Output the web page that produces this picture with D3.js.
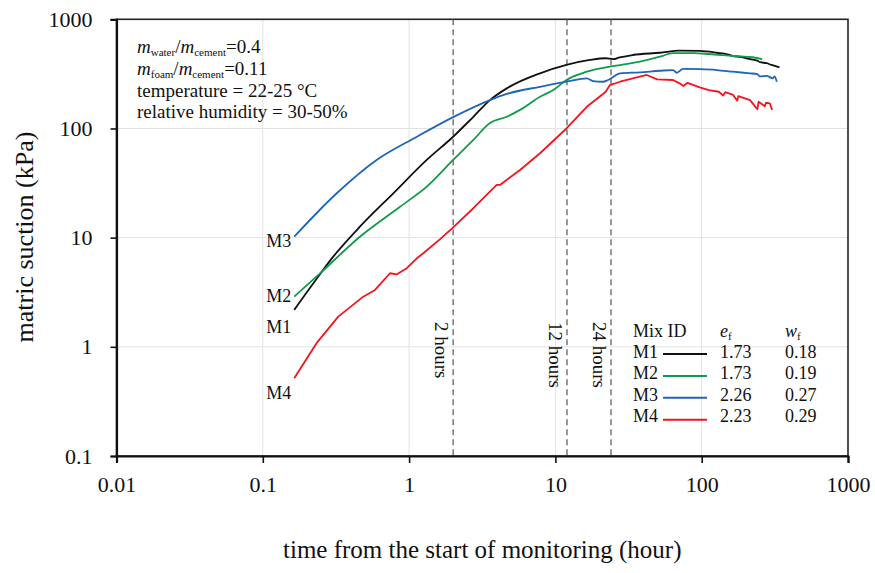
<!DOCTYPE html>
<html>
<head>
<meta charset="UTF-8">
<title>matric suction</title>
<style>
  body { margin: 0; background: #fff; }
  text { font-family: "Liberation Serif", "Times New Roman", Times, serif; fill: #111; }
</style>
</head>
<body>
<script src="https://cdn.jsdelivr.net/npm/d3@7"></script>
<script>
// data: [time (h), matric suction (kPa)]
var m1 = [[0.164,2.18],[0.221,3.8],[0.303,6.7],[0.461,12.6],[0.78,25.5],[1.32,51.5],[2.0,84],[2.75,128],[3.57,182],[4.65,233],
  [7.85,320],[11.9,382],[17.2,424],[22,440],[25,432],[27,445],[33.8,471],[51.9,494],[70.6,516],[97,513],[127,494],
  [150,478],[164,461],[185,452],[200,440],[214,431],[240,418],[250,405],[278,396],[300,382],[340,363]];
var m2 = [[0.164,2.88],[0.246,4.7],[0.461,10.2],[0.867,19.2],[1.32,29.3],[2.0,51.5],[2.75,78.6],[3.57,112],[4.65,128],
  [5.73,148],[7.85,195],[9.68,225],[11.9,278],[16.4,331],[23.6,368],[27.7,381],[37.9,409],[52,455],[63.7,489],
  [89,489],[112,481],[164,461],[223,449],[259,431]];
var m3 = [[0.164,10.2],[0.32,25.5],[0.60,51.5],[1.13,84],[2.0,127],[3.57,182],[4.65,207],[7.85,241],[11.9,268],
  [16.4,288],[18.1,272],[21.1,268],[22.9,278],[27.7,320],[37.9,327],[51.9,338],[63.7,343],[67.5,324],[74.5,351],
  [97.3,349],[126.7,343],[163.7,331],[214,320],[240,315],[250,300],[278,303],[307,288],[315,300],[326,268]];
var m4 = [[0.164,0.515],[0.233,1.08],[0.328,1.89],[0.486,2.88],[0.585,3.32],[0.74,4.72],[0.82,4.6],[0.964,5.25],
  [1.13,6.47],[1.25,7.2],[1.63,9.7],[2.0,12.4],[2.75,18.6],[3.97,30.4],[4.2,30.5],[5.73,41.7],[7.85,59.3],[11.9,100],
  [16.4,158],[22,216],[23.6,250],[27.7,268],[33.8,288],[42.1,309],[49.6,282],[63.7,278],[70.6,259],[75,245],[80,262],
  [97,238],[112,225],[131,217],[140,200],[145,215],[164,203],[175,180],[178,198],[214,182],[240,150],[245,176],
  [270,160],[275,172],[292,170],[303,148]];

var mixIds = ["M1","M2","M3","M4"];
var voidRatio = ["1.73","1.73","2.26","2.23"];
var waterContent = ["0.18","0.19","0.27","0.29"];
var colors = ["#111111","#119a4b","#1f65b8","#f2141e"];
var series = [m1, m2, m3, m4];

var xTicks = [0.01, 0.1, 1, 10, 100, 1000];
var xTickLabels = ["0.01","0.1","1","10","100","1000"];
var yTicks = [0.1, 1, 10, 100, 1000];
var yTickLabels = ["0.1","1","10","100","1000"];
var markTimes = [2, 12, 24];
var markLabels = ["2 hours","12 hours","24 hours"];

var width = 875, height = 573;
var svg = d3.select("body").append("svg")
  .attr("width", width).attr("height", height);

var x = d3.scaleLog().domain([0.01, 1000]).range([116.5, 848]);
var y = d3.scaleLog().domain([0.1, 1000]).range([456, 19.3]);

// light grid
svg.append("g").selectAll("line").data(xTicks.slice(1, -1)).enter().append("line")
  .attr("x1", d => x(d)).attr("x2", d => x(d))
  .attr("y1", y(1000)).attr("y2", y(0.1))
  .attr("stroke", "#e2e2e2").attr("stroke-width", 1);
svg.append("g").selectAll("line").data(yTicks.slice(1, -1)).enter().append("line")
  .attr("x1", x(0.01)).attr("x2", x(1000))
  .attr("y1", d => y(d)).attr("y2", d => y(d))
  .attr("stroke", "#e2e2e2").attr("stroke-width", 1);

// frame
svg.append("rect")
  .attr("x", x(0.01)).attr("y", y(1000))
  .attr("width", x(1000) - x(0.01)).attr("height", y(0.1) - y(1000))
  .attr("fill", "none").attr("stroke", "#222").attr("stroke-width", 1.6);

// dashed time markers
svg.append("g").selectAll("line").data(markTimes).enter().append("line")
  .attr("x1", d => x(d)).attr("x2", d => x(d))
  .attr("y1", y(1000)).attr("y2", y(0.1))
  .attr("stroke", "#555").attr("stroke-width", 1.2)
  .attr("stroke-dasharray", "6,4");
svg.append("g").selectAll("text").data(markTimes).enter().append("text")
  .attr("transform", d => "translate(" + (x(d) - 18) + ",322) rotate(90)")
  .attr("font-size", 19)
  .text((d, i) => markLabels[i]);

// axes
var xAxis = svg.append("g")
  .attr("transform", "translate(0," + y(0.1) + ")")
  .call(d3.axisBottom(x).tickValues(xTicks).tickSize(7).tickPadding(13)
    .tickFormat((d, i) => xTickLabels[i]));
var yAxis = svg.append("g")
  .attr("transform", "translate(" + x(0.01) + ",0)")
  .call(d3.axisLeft(y).tickValues(yTicks).tickSize(6).tickPadding(18)
    .tickFormat((d, i) => yTickLabels[i]));
[xAxis, yAxis].forEach(function(a) {
  a.attr("font-family", null);
  a.select(".domain").attr("stroke", "#111").attr("stroke-width", 2.2);
  a.selectAll(".tick line").attr("stroke", "#111").attr("stroke-width", 1.6);
  a.selectAll(".tick text").attr("font-size", 22).attr("fill", "#111");
});

// curves (M4 is noisy, keep it unsmoothed)
var smooth = d3.line().x(d => x(d[0])).y(d => y(d[1])).curve(d3.curveMonotoneX);
var plain = d3.line().x(d => x(d[0])).y(d => y(d[1]));
series.forEach(function(s, i) {
  svg.append("path").datum(s)
    .attr("d", i == 3 ? plain : smooth)
    .attr("fill", "none")
    .attr("stroke", colors[i])
    .attr("stroke-width", 1.8)
    .attr("stroke-linejoin", "round");
});

// curve start labels
var labelDy = [23, 5, 10, 21];
series.forEach(function(s, i) {
  svg.append("text")
    .attr("x", x(s[0][0]) - 3)
    .attr("y", y(s[0][1]) + labelDy[i])
    .attr("text-anchor", "end")
    .attr("font-size", 18)
    .text(mixIds[i]);
});

// test conditions
var note = svg.append("g").attr("transform", "translate(137,0)").attr("font-size", 19);
function ratio(t, top, bottom, val) {
  t.append("tspan").attr("font-style", "italic").text("m");
  t.append("tspan").attr("font-size", 11).attr("dy", 3).text(top);
  t.append("tspan").attr("dy", -3).text("/");
  t.append("tspan").attr("font-style", "italic").text("m");
  t.append("tspan").attr("font-size", 11).attr("dy", 3).text(bottom);
  t.append("tspan").attr("dy", -3).text(val);
}
ratio(note.append("text").attr("y", 53), "water", "cement", "=0.4");
ratio(note.append("text").attr("y", 75), "foam", "cement", "=0.11");
note.append("text").attr("y", 97).text("temperature = 22-25 \u00B0C");
note.append("text").attr("y", 118).text("relative humidity = 30-50%");

// legend table
var leg = svg.append("g").attr("font-size", 18);
leg.append("text").attr("x", 633).attr("y", 337).text("Mix ID");
var ef = leg.append("text").attr("x", 720).attr("y", 337);
ef.append("tspan").attr("font-style", "italic").text("e");
ef.append("tspan").attr("font-size", 11).attr("dy", 3).text("f");
var wf = leg.append("text").attr("x", 785).attr("y", 337);
wf.append("tspan").attr("font-style", "italic").text("w");
wf.append("tspan").attr("font-size", 11).attr("dy", 3).text("f");
mixIds.forEach(function(id, i) {
  var yy = 358 + i * 21.3;
  leg.append("text").attr("x", 633).attr("y", yy).text(id);
  leg.append("line").attr("x1", 663).attr("x2", 707)
    .attr("y1", yy - 4 + i * 0.6).attr("y2", yy - 4 + i * 0.6)
    .attr("stroke", colors[i]).attr("stroke-width", 2);
  leg.append("text").attr("x", 720).attr("y", yy).text(voidRatio[i]);
  leg.append("text").attr("x", 785).attr("y", yy).text(waterContent[i]);
});

// axis titles
svg.append("text")
  .attr("x", (x(0.01) + x(1000)) / 2).attr("y", 558)
  .attr("text-anchor", "middle").attr("font-size", 25)
  .text("time from the start of monitoring (hour)");
svg.append("text")
  .attr("transform", "translate(33,237) rotate(-90)")
  .attr("text-anchor", "middle").attr("font-size", 26)
  .text("matric suction (kPa)");
</script>
</body>
</html>
